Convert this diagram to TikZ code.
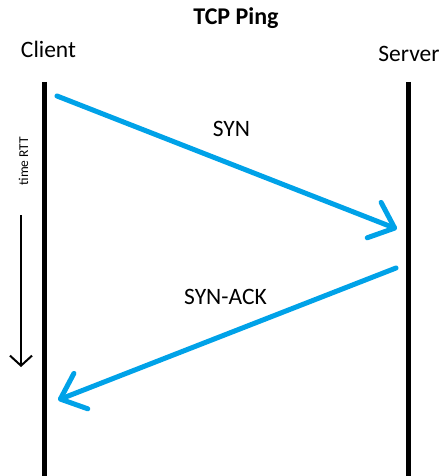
\documentclass[tikz,border=0pt]{standalone}
\usepackage{fontspec}
\setmainfont{Carlito}
\usetikzlibrary{arrows.meta,positioning}
\definecolor{msgblue}{RGB}{0,162,232}
\tikzset{
  lifeline/.style={draw, line width=4.5pt},
  message/.style={
    draw=msgblue,
    line width=5pt,
    line cap=round,
    -{Straight Barb[length=22pt,width=38pt,round]}},
  timeline/.style={draw, line width=2pt, -{Straight Barb[length=10pt,width=22pt]}},
  party/.style={font=\fontsize{23.5}{27}\selectfont, anchor=base, inner sep=0pt},
  msgtext/.style={font=\fontsize{23.5}{27}\selectfont, anchor=base, inner sep=0pt},
  headline/.style={font=\bfseries\fontsize{24}{28}\selectfont, anchor=base, inner sep=0pt},
  timetext/.style={font=\fontsize{13.5}{15}\selectfont, rotate=90, anchor=base, inner sep=0pt},
}
\begin{document}
\begin{tikzpicture}[x=1pt, y=-1pt]
		\useasboundingbox (0,0) rectangle (441,476);
		\node[headline] (title) at (236,25) {TCP Ping};
		\node[party] (client) at (48.5,57.5) {Client};
		\node[party] (server) at (409,61.7) {Server};
		% lifelines
		\coordinate (client-top) at (44.5,82);
		\coordinate (client-bottom) at (44.5,476);
		\coordinate (server-top) at (408.5,82);
		\coordinate (server-bottom) at (408.5,476);
		\draw[lifeline] (client-top) -- (client-bottom);
		\draw[lifeline] (server-top) -- (server-bottom);
		% messages
		\coordinate (syn-start) at (57,96);
		\coordinate (syn-end) at (397,229);
		\coordinate (ack-start) at (396,268);
		\coordinate (ack-end) at (58,400);
		\draw[message] (syn-start) -- (syn-end);
		\draw[message] (ack-start) -- (ack-end);
		\node[msgtext] (syn) at (231.5,136) {SYN};
		\node[msgtext] (syn-ack) at (225.5,304) {SYN-ACK};
		% time axis
		\coordinate (time-top) at (21,215);
		\coordinate (time-bottom) at (21,367);
		\draw[timeline] (time-top) -- (time-bottom);
		\node[timetext] (rtt) at (28,161) {time RTT};
	\end{tikzpicture}
\end{document}
